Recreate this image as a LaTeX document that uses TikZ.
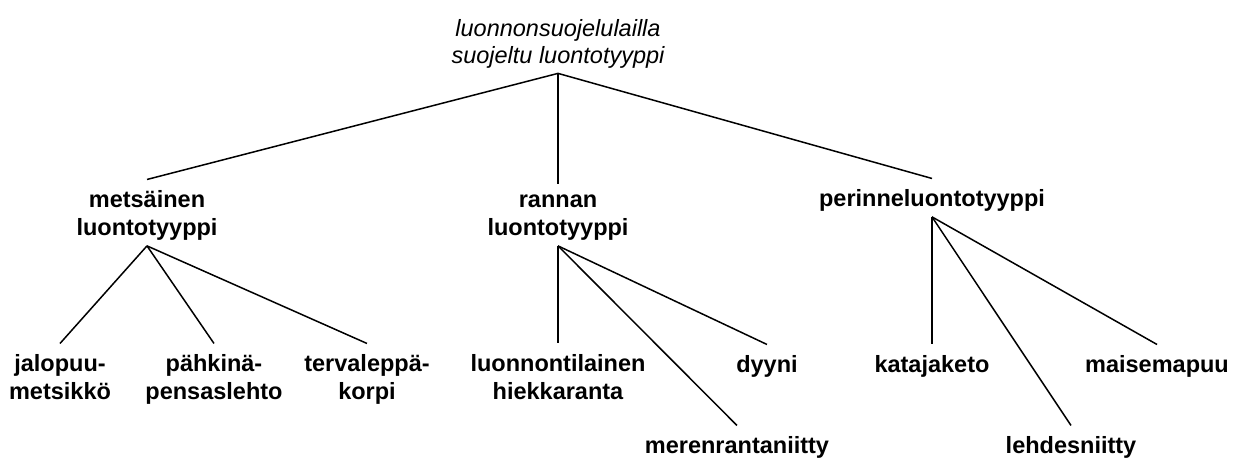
\documentclass[tikz,border=0pt]{standalone}
\usepackage{fontspec}
\setmainfont{Liberation Sans}
\begin{document}
\begin{tikzpicture}[x=1pt,y=-1pt,
  every node/.style={inner sep=0pt, outer xsep=0pt, align=center, anchor=base},
  term/.style={font=\fontsize{23.5}{28}\selectfont\bfseries},
  top/.style={font=\fontsize{23.5}{26.5}\selectfont\itshape},
  leaf/.style={outer ysep=10.5pt},
  link/.style={line width=1.5pt}]
\useasboundingbox (0,0) rectangle (1242,458);

% root (anchored on the baseline of its last line)
\node[top, outer ysep=5.5pt] (root) at (558,63) {luonnonsuojelulailla\\suojeltu luontotyyppi};

% main groups
\node[term, leaf] (metsa) at (147,235) {mets\"ainen\\luontotyyppi};
\node[term, leaf] (ranta) at (558,235) {rannan\\luontotyyppi};
\node[term, leaf] (perinne) at (932,206) {perinneluontotyyppi};

% forest types
\node[term, leaf] (jalo) at (60,399) {jalopuu-\\metsikk\"o};
\node[term, leaf] (pahk) at (214,399) {p\"ahkin\"a-\\pensaslehto};
\node[term, leaf] (terva) at (367,399) {tervalepp\"a-\\korpi};

% shore types
\node[term, leaf] (hiekka) at (558,399) {luonnontilainen\\hiekkaranta};
\node[term, leaf] (dyyni) at (767,372) {dyyni};
\node[term, leaf] (meren) at (737,453) {merenrantaniitty};

% traditional landscape types
\node[term, leaf] (kataja) at (932,372) {katajaketo};
\node[term, leaf] (maisema) at (1157,372) {maisemapuu};
\node[term, leaf] (lehdes) at (1071,453) {lehdesniitty};

% branch points just below the parents
\coordinate (metsa-b) at ([yshift=4.5pt]metsa.south);
\coordinate (ranta-b) at ([yshift=4.5pt]ranta.south);
\coordinate (perinne-b) at ([yshift=4.5pt]perinne.south);

\begin{scope}[link]
\foreach \c in {metsa,ranta,perinne}
  \draw (root.south) -- (\c.north);
\foreach \c in {jalo,pahk,terva}
  \draw (metsa-b) -- (\c.north);
\foreach \c in {hiekka,dyyni,meren}
  \draw (ranta-b) -- (\c.north);
\foreach \c in {kataja,maisema,lehdes}
  \draw (perinne-b) -- (\c.north);
\end{scope}
\end{tikzpicture}
\end{document}
